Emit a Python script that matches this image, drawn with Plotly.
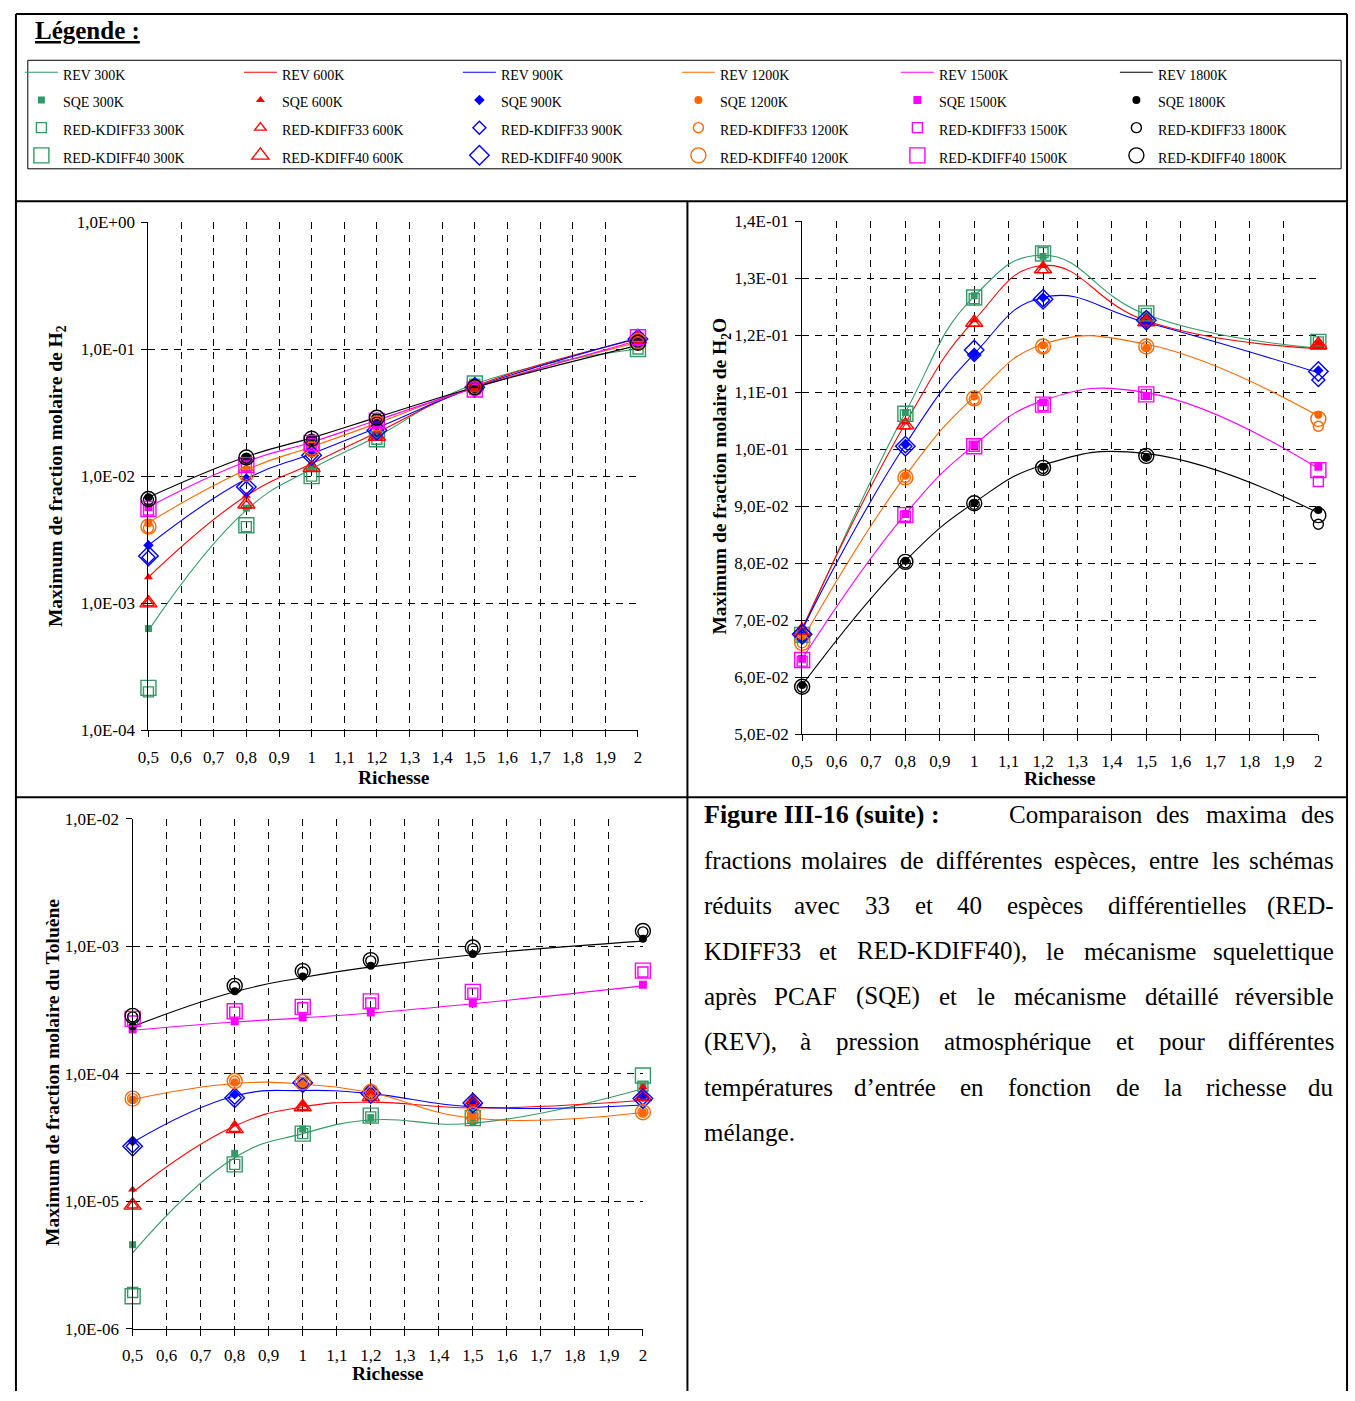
import plotly.graph_objects as go

W, H = 1355, 1401

# ---------------- data ----------------
phi = [0.5, 0.8, 1.0, 1.2, 1.5, 2.0]
temps = ["300K", "600K", "900K", "1200K", "1500K", "1800K"]
models = ["REV", "SQE", "RED-KDIFF33", "RED-KDIFF40"]

x_tickvals = [0.5, 0.6, 0.7, 0.8, 0.9, 1.0, 1.1, 1.2, 1.3, 1.4, 1.5, 1.6, 1.7, 1.8, 1.9, 2.0]
x_ticktext = ["0,5", "0,6", "0,7", "0,8", "0,9", "1", "1,1", "1,2", "1,3", "1,4",
              "1,5", "1,6", "1,7", "1,8", "1,9", "2"]
h2_tickvals = [1e-4, 1e-3, 1e-2, 1e-1, 1.0]
h2_ticktext = ["1,0E-04", "1,0E-03", "1,0E-02", "1,0E-01", "1,0E+00"]
h2o_tickvals = [0.05, 0.06, 0.07, 0.08, 0.09, 0.10, 0.11, 0.12, 0.13, 0.14]
h2o_ticktext = ["5,0E-02", "6,0E-02", "7,0E-02", "8,0E-02", "9,0E-02",
                "1,0E-01", "1,1E-01", "1,2E-01", "1,3E-01", "1,4E-01"]
tol_tickvals = [1e-6, 1e-5, 1e-4, 1e-3, 1e-2]
tol_ticktext = ["1,0E-06", "1,0E-05", "1,0E-04", "1,0E-03", "1,0E-02"]

# H2 maxima (rows: 300K .. 1800K)
h2_rev = [
    [6.1e-4, 5.4e-3, 1.14e-2, 2.05e-2, 5.3e-2, 1.00e-1],
    [1.6e-3, 7.0e-3, 1.25e-2, 2.2e-2, 5.1e-2, 1.20e-1],
    [2.85e-3, 9.5e-3, 1.5e-2, 2.4e-2, 5.0e-2, 1.22e-1],
    [4.3e-3, 1.12e-2, 1.7e-2, 2.6e-2, 5.0e-2, 1.13e-1],
    [5.7e-3, 1.3e-2, 1.85e-2, 2.75e-2, 4.95e-2, 1.17e-1],
    [6.8e-3, 1.42e-2, 2.0e-2, 2.9e-2, 5.0e-2, 1.07e-1],
]
h2_sqe = [
    [6.3e-4, 5.6e-3, 1.18e-2, 2.1e-2, 5.2e-2, 1.05e-1],
    [1.6e-3, 7.0e-3, 1.27e-2, 2.2e-2, 5.1e-2, 1.2e-1],
    [2.85e-3, 9.6e-3, 1.5e-2, 2.45e-2, 5.0e-2, 1.22e-1],
    [4.25e-3, 1.13e-2, 1.7e-2, 2.65e-2, 5.0e-2, 1.18e-1],
    [5.7e-3, 1.32e-2, 1.85e-2, 2.75e-2, 4.95e-2, 1.17e-1],
    [6.8e-3, 1.4e-2, 2.0e-2, 2.9e-2, 5.0e-2, 1.1e-1],
]
h2_r33 = [
    [2.0e-4, 4.0e-3, 1.0e-2, 1.95e-2, 5.3e-2, 1.0e-1],
    [1.0e-3, 5.9e-3, 1.15e-2, 2.05e-2, 5.1e-2, 1.2e-1],
    [2.3e-3, 8.1e-3, 1.45e-2, 2.3e-2, 5.0e-2, 1.2e-1],
    [3.9e-3, 1.03e-2, 1.6e-2, 2.6e-2, 4.95e-2, 1.16e-1],
    [5.4e-3, 1.2e-2, 1.8e-2, 2.7e-2, 4.8e-2, 1.22e-1],
    [6.5e-3, 1.38e-2, 1.95e-2, 2.85e-2, 5.0e-2, 1.1e-1],
]
h2_r40 = [
    [2.15e-4, 4.1e-3, 1.0e-2, 1.95e-2, 5.35e-2, 1.0e-1],
    [1.0e-3, 6.0e-3, 1.16e-2, 2.05e-2, 5.1e-2, 1.2e-1],
    [2.35e-3, 8.2e-3, 1.46e-2, 2.3e-2, 5.0e-2, 1.2e-1],
    [4.0e-3, 1.04e-2, 1.62e-2, 2.6e-2, 4.95e-2, 1.16e-1],
    [5.5e-3, 1.22e-2, 1.82e-2, 2.72e-2, 4.8e-2, 1.24e-1],
    [6.6e-3, 1.4e-2, 1.97e-2, 2.88e-2, 5.0e-2, 1.12e-1],
]

# H2O maxima
h2o_rev = [
    [0.0680, 0.1064, 0.1268, 0.1340, 0.1236, 0.1177],
    [0.0685, 0.1045, 0.1226, 0.1322, 0.1225, 0.1176],
    [0.0684, 0.1008, 0.1167, 0.1266, 0.1222, 0.1134],
    [0.0665, 0.0953, 0.1092, 0.1184, 0.1184, 0.1058],
    [0.0632, 0.0886, 0.1007, 0.1085, 0.1099, 0.0966],
    [0.0586, 0.0804, 0.0906, 0.0972, 0.0992, 0.0888],
]
h2o_sqe = [
    [0.0678, 0.1064, 0.1269, 0.1338, 0.1235, 0.1185],
    [0.0687, 0.1047, 0.1226, 0.1321, 0.1229, 0.1185],
    [0.0684, 0.1008, 0.1167, 0.1266, 0.1220, 0.1138],
    [0.0665, 0.0953, 0.1092, 0.1182, 0.1177, 0.1060],
    [0.0632, 0.0886, 0.1007, 0.1082, 0.1093, 0.0969],
    [0.0586, 0.0804, 0.0906, 0.0969, 0.0985, 0.0893],
]
h2o_r33 = [
    [0.0672, 0.1060, 0.1264, 0.1345, 0.1238, 0.1188],
    [0.0680, 0.1040, 0.1220, 0.1314, 0.1223, 0.1183],
    [0.0672, 0.1005, 0.1165, 0.1261, 0.1226, 0.1121],
    [0.0660, 0.0950, 0.1087, 0.1178, 0.1180, 0.1040],
    [0.0628, 0.0882, 0.1005, 0.1076, 0.1096, 0.0943],
    [0.0582, 0.0800, 0.0903, 0.0966, 0.0988, 0.0868],
]
h2o_r40 = [
    [0.0674, 0.1062, 0.1266, 0.1343, 0.1238, 0.1188],
    [0.0682, 0.1042, 0.1222, 0.1316, 0.1223, 0.1183],
    [0.0675, 0.1005, 0.1174, 0.1263, 0.1226, 0.1136],
    [0.0660, 0.0950, 0.1089, 0.1180, 0.1180, 0.1053],
    [0.0630, 0.0884, 0.1005, 0.1078, 0.1096, 0.0963],
    [0.0583, 0.0802, 0.0905, 0.0967, 0.0988, 0.0884],
]

# Toluene maxima
tol_rev = [
    [3.94e-6, 2.2e-5, 3.4e-5, 4.35e-5, 4.1e-5, 7.65e-5],
    [1.18e-5, 3.9e-5, 5.5e-5, 6.0e-5, 5.4e-5, 6.2e-5],
    [2.9e-5, 6.7e-5, 7.4e-5, 7.0e-5, 5.5e-5, 5.7e-5],
    [6.3e-5, 8.4e-5, 8.3e-5, 7.1e-5, 4.5e-5, 4.97e-5],
    [2.2e-4, 2.55e-4, 2.75e-4, 3.0e-4, 3.55e-4, 4.9e-4],
    [2.35e-4, 4.4e-4, 5.7e-4, 6.9e-4, 8.6e-4, 1.1e-3],
]
tol_sqe = [
    [4.57e-6, 2.38e-5, 3.69e-5, 4.54e-5, 4.2e-5, 8.0e-5],
    [1.24e-5, 4.06e-5, 5.8e-5, 7.0e-5, 6.2e-5, 7.9e-5],
    [2.96e-5, 6.9e-5, 7.9e-5, 7.2e-5, 6.0e-5, 6.6e-5],
    [6.3e-5, 8.6e-5, 8.4e-5, 7.2e-5, 4.76e-5, 4.97e-5],
    [2.23e-4, 2.58e-4, 2.77e-4, 3.03e-4, 3.57e-4, 5.0e-4],
    [2.36e-4, 4.45e-4, 5.8e-4, 7.06e-4, 8.7e-4, 1.15e-3],
]
tol_r33 = [
    [1.93e-6, 1.95e-5, 3.4e-5, 4.6e-5, 4.5e-5, 8.0e-5],
    [9.3e-6, 3.7e-5, 5.5e-5, 6.6e-5, 6.0e-5, 6.6e-5],
    [2.7e-5, 6.5e-5, 8.3e-5, 7.0e-5, 5.9e-5, 6.4e-5],
    [6.4e-5, 8.8e-5, 8.6e-5, 7.2e-5, 4.8e-5, 5.0e-5],
    [2.6e-4, 3.05e-4, 3.3e-4, 3.6e-4, 4.3e-4, 6.3e-4],
    [2.8e-4, 4.85e-4, 6.3e-4, 7.7e-4, 9.6e-4, 1.3e-3],
]
tol_r40 = [
    [1.8e-6, 1.95e-5, 3.4e-5, 4.7e-5, 4.5e-5, 9.7e-5],
    [9.3e-6, 3.7e-5, 5.5e-5, 6.6e-5, 6.0e-5, 6.6e-5],
    [2.7e-5, 6.5e-5, 8.5e-5, 7.0e-5, 5.9e-5, 6.4e-5],
    [6.4e-5, 8.8e-5, 8.6e-5, 7.2e-5, 4.8e-5, 5.0e-5],
    [2.7e-4, 3.1e-4, 3.35e-4, 3.7e-4, 4.4e-4, 6.45e-4],
    [2.85e-4, 4.9e-4, 6.4e-4, 7.8e-4, 9.8e-4, 1.32e-3],
]

# ---------------- styles ----------------
colors = ["#339966", "#FF0000", "#0000FF", "#FF6600", "#FF00FF", "#000000"]
sqe_symbols = ["square", "triangle-up", "diamond", "circle", "square", "circle"]
sqe_sizes = [7, 8, 8, 8, 8, 8]
open_symbols = ["square-open", "triangle-up-open", "diamond-open", "circle-open",
                "square-open", "circle-open"]
SERIF = "Liberation Serif"

def px(x):
    return x / W

def py(y):
    return 1 - y / H

species = [
    (h2_rev, h2_sqe, h2_r33, h2_r40),
    (h2o_rev, h2o_sqe, h2o_r33, h2o_r40),
    (tol_rev, tol_sqe, tol_r33, tol_r40),
]
axis_refs = [("x", "y"), ("x2", "y2"), ("x3", "y3")]

fig = go.Figure()
for m, model in enumerate(models):
    for t, temp in enumerate(temps):
        for s in range(3):
            vals = species[s][m][t]
            xa, ya = axis_refs[s]
            name = '<span style="font-size:14px">%s %s</span>' % (model, temp)
            common = dict(x=phi, y=vals, xaxis=xa, yaxis=ya, name=name,
                          showlegend=(s == 0), cliponaxis=False)
            if m == 0:
                tr = go.Scatter(mode="lines", line=dict(color=colors[t], width=1.1,
                                shape="spline", smoothing=1.3), **common)
            elif m == 1:
                tr = go.Scatter(mode="markers", marker=dict(symbol=sqe_symbols[t],
                                size=sqe_sizes[t], color=colors[t], line=dict(width=0)), **common)
            else:
                size = 10 if m == 2 else 15
                tr = go.Scatter(mode="markers", marker=dict(symbol=open_symbols[t],
                                size=size, color=colors[t],
                                line=dict(width=1.4, color=colors[t])), **common)
            fig.add_trace(tr)

tickfont = dict(family=SERIF, size=17, color="black")

def xaxis_cfg(x0, x1, anchor):
    return dict(domain=[px(x0), px(x1)], range=[0.5, 2.0], anchor=anchor,
                tickvals=x_tickvals, ticktext=x_ticktext, tickfont=tickfont,
                ticks="outside", ticklen=6, tickcolor="black", tickwidth=1,
                showline=True, linecolor="black", linewidth=1.2,
                showgrid=True, gridcolor="black", gridwidth=1, griddash="7px,6px",
                zeroline=False, ticklabelstandoff=5, fixedrange=True)

def yaxis_cfg(y_top, y_bot, anchor, rng, tv, tt, log):
    d = dict(domain=[py(y_bot), py(y_top)], range=rng, anchor=anchor,
             tickvals=tv, ticktext=tt, tickfont=tickfont,
             ticks="outside", ticklen=6, tickcolor="black", tickwidth=1,
             showline=True, linecolor="black", linewidth=1.2,
             showgrid=True, gridcolor="black", gridwidth=1, griddash="7px,6px",
             zeroline=False, ticklabelstandoff=3, fixedrange=True)
    if log:
        d["type"] = "log"
    return d

fig.update_layout(
    width=W, height=H,
    margin=dict(l=0, r=0, t=0, b=0),
    paper_bgcolor="white", plot_bgcolor="white",
    font=dict(family=SERIF, color="black"),
    xaxis=xaxis_cfg(139, 634, "y"),
    yaxis=yaxis_cfg(216, 731, "x", [-4, 0], h2_tickvals, h2_ticktext, True),
    xaxis2=xaxis_cfg(800, 1322, "y2"),
    yaxis2=yaxis_cfg(215, 735, "x2", [0.05, 0.14], h2o_tickvals, h2o_ticktext, False),
    xaxis3=xaxis_cfg(123, 639, "y3"),
    yaxis3=yaxis_cfg(821, 1338, "x3", [-6, -2], tol_tickvals, tol_ticktext, True),
    legend=dict(orientation="h", x=px(9), xanchor="left", y=py(45), yanchor="top",
                bgcolor="rgba(0,0,0,0)", borderwidth=0,
                font=dict(family=SERIF, size=19, color="black"),
                itemwidth=33,
                entrywidth=171, entrywidthmode="pixels", itemsizing="trace",
                traceorder="normal"),
    showlegend=True,
)

# ---------------- frame lines ----------------
frame = [
    (5, 5, 1351, 5), (5, 5, 5, 1401), (1351, 5, 1351, 1401),
    (5, 195, 1351, 195), (684, 195, 684, 1401), (5, 799, 1351, 799),
]
for x0, y0, x1, y1 in frame:
    fig.add_shape(type="line", xref="paper", yref="paper",
                  x0=px(x0), y0=py(y0), x1=px(x1), y1=py(y1),
                  line=dict(color="black", width=2))
# legend box
fig.add_shape(type="rect", xref="paper", yref="paper", layer="below",
              x0=px(17), y0=py(162), x1=px(1345), y1=py(52),
              line=dict(color="black", width=1), fillcolor="white")

ann = []
ann.append(dict(text="<b><u>Légende :</u></b>", x=px(22), y=py(22), xanchor="left",
                yanchor="middle", font=dict(family=SERIF, size=25)))

title_font = dict(family=SERIF, size=19.5, color="black")
ann.append(dict(text="<b>Maximum de fraction molaire de H<sub>2</sub></b>", x=px(46), y=py(473),
                xanchor="center", textangle=-90, font=title_font))
ann.append(dict(text="<b>Maximum de fraction molaire de H<sub>2</sub>O</b>", x=px(718), y=py(474),
                xanchor="center", textangle=-90, font=title_font))
ann.append(dict(text="<b>Maximum de fraction molaire du Toluène</b>", x=px(42), y=py(1078),
                xanchor="center", textangle=-90, font=title_font))
for cx, cy in [(387, 779), (1061, 780), (381, 1383)]:
    ann.append(dict(text="<b>Richesse</b>", x=px(cx), y=py(cy), xanchor="center",
                    font=title_font))

# ---------------- caption (justified) ----------------
TW = {}
for ch, w in zip("abcdefghijklmnopqrstuvwxyz",
                 [444, 500, 444, 500, 444, 333, 500, 500, 278, 278, 500, 278, 778,
                  500, 500, 500, 500, 333, 389, 278, 500, 500, 722, 500, 500, 444]):
    TW[ch] = w
for ch, w in zip("ABCDEFGHIJKLMNOPQRSTUVWXYZ",
                 [722, 667, 667, 722, 611, 556, 722, 722, 333, 389, 722, 611, 889,
                  722, 722, 556, 722, 667, 556, 611, 722, 722, 944, 722, 722, 611]):
    TW[ch] = w
TW.update({"é": 444, "è": 444, "à": 444, "(": 333, ")": 333, ",": 250, ".": 250,
           "-": 333, "’": 333, ":": 278, " ": 250})
for d in "0123456789":
    TW[d] = 500

CAP = 25

def text_w(word):
    return sum(TW.get(c, 500) for c in word) * CAP / 1000.0

cap_font = dict(family=SERIF, size=CAP, color="black")
caption_lines = [
    ("Comparaison des maxima des", 1007, 1340),
    ("fractions molaires de différentes espèces, entre les schémas", 699, 1340),
    ("réduits avec 33 et 40 espèces différentielles (RED-", 699, 1340),
    ("KDIFF33 et RED-KDIFF40), le mécanisme squelettique", 699, 1340),
    ("après PCAF (SQE) et le mécanisme détaillé réversible", 699, 1340),
    ("(REV), à pression atmosphérique et pour différentes", 699, 1340),
    ("températures d’entrée en fonction de la richesse du", 699, 1340),
]
line_y = [817, 863, 909, 955, 1001, 1047, 1093, 1139]
ann.append(dict(text="<b>Figure III-16 (suite) :</b>", x=px(699), y=py(line_y[0]),
                xanchor="left", font=dict(family=SERIF, size=26, color="black")))
for i, (line, left, right) in enumerate(caption_lines):
    words = line.split(" ")
    widths = [text_w(w) for w in words]
    gap = (right - left - sum(widths)) / (len(words) - 1)
    xpos = left
    for j, (wd, ww) in enumerate(zip(words, widths)):
        if j == 0:
            ann.append(dict(text=wd, x=px(xpos), xanchor="left", y=py(line_y[i]), font=cap_font))
        elif j == len(words) - 1:
            ann.append(dict(text=wd, x=px(right), xanchor="right", y=py(line_y[i]), font=cap_font))
        else:
            ann.append(dict(text=wd, x=px(xpos + ww / 2), xanchor="center", y=py(line_y[i]),
                            font=cap_font))
        xpos += ww + gap
ann.append(dict(text="mélange.", x=px(699), y=py(line_y[7]), xanchor="left", font=cap_font))

for a in ann:
    a.setdefault("xref", "paper")
    a.setdefault("yref", "paper")
    a.setdefault("showarrow", False)
    a.setdefault("yanchor", "middle")
fig.update_layout(annotations=ann)

fig.write_html("out.html", config={"displayModeBar": False},
               post_script="document.body.style.margin='0';document.body.style.overflow='hidden';")
